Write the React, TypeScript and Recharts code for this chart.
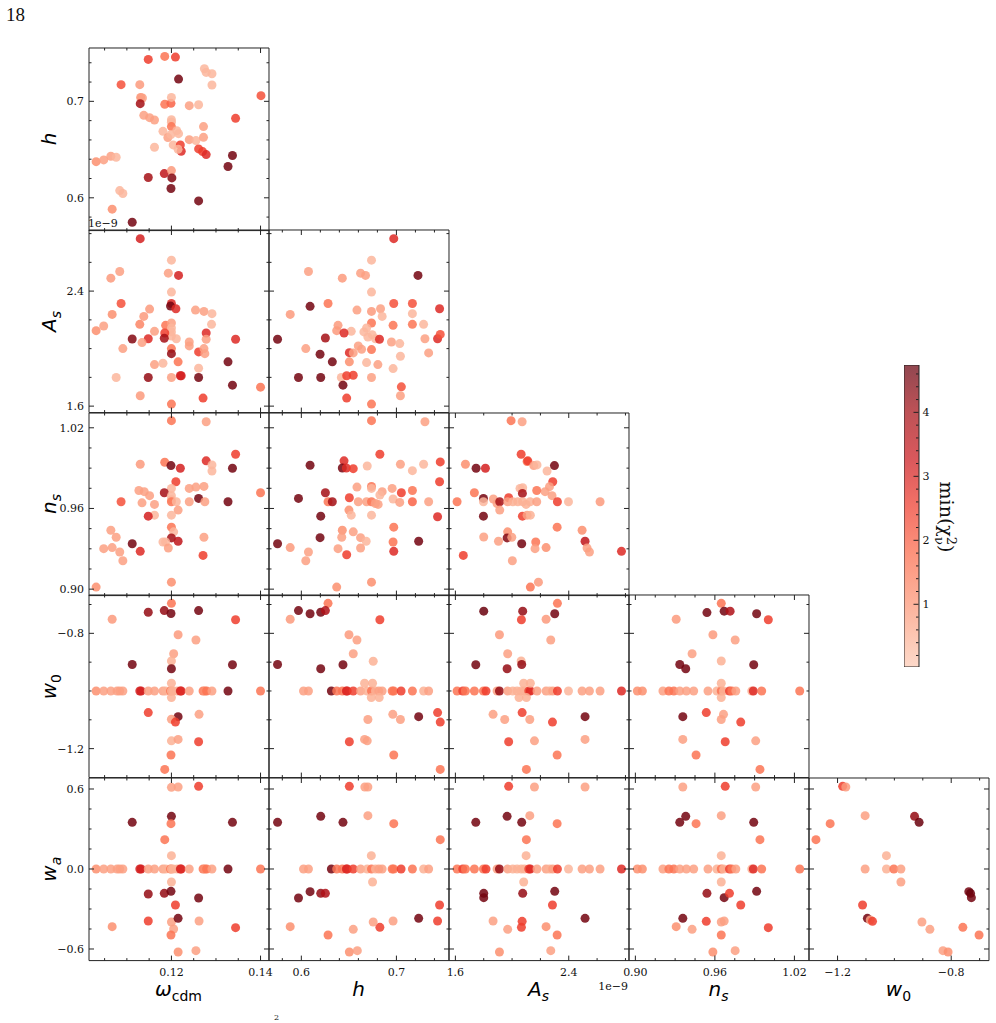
import React from "react";
import { ScatterChart, Scatter, XAxis, YAxis, ReferenceArea, BarChart, Bar } from "recharts";

// [x, y, min reduced chi2] for every off-diagonal panel
type Pt = [number, number, number];
// [x, min reduced chi2] for samples sitting on the fiducial w0 / wa line
type Fid = [number, number];

const W0_FID = -1;
const WA_FID = 0;

const hVsOmega: Pt[] = [
  [0.1148, 0.7435, 2.5], [0.1185, 0.7466, 1.6], [0.1209, 0.7459, 2.5], [0.1216, 0.7231, 4.6],
  [0.1274, 0.7338, 0.4], [0.1278, 0.73, 0.4], [0.1291, 0.7286, 0.4], [0.1291, 0.7169, 0.4],
  [0.1087, 0.7173, 2.2], [0.1129, 0.7173, 0.9], [0.1131, 0.7041, 1.1], [0.1135, 0.7035, 0.8],
  [0.113, 0.6976, 4.0], [0.1185, 0.6969, 1.6], [0.1199, 0.6979, 1.9], [0.12, 0.7041, 0.4],
  [0.124, 0.6955, 0.8], [0.1261, 0.6965, 0.4], [0.1401, 0.7059, 2.2], [0.1344, 0.6824, 2.5],
  [0.1138, 0.6855, 0.8], [0.1151, 0.6831, 0.8], [0.1162, 0.6807, 0.8], [0.12, 0.681, 0.4],
  [0.12, 0.6783, 0.4], [0.12, 0.6738, 1.6], [0.1181, 0.6689, 0.4], [0.1212, 0.6696, 0.4],
  [0.1216, 0.6665, 0.4], [0.1272, 0.6738, 0.8], [0.1192, 0.6624, 0.8], [0.1199, 0.6655, 0.4],
  [0.124, 0.6603, 0.8], [0.1255, 0.6593, 0.4], [0.1272, 0.6627, 0.8], [0.1162, 0.6524, 0.4],
  [0.1204, 0.6548, 0.4], [0.122, 0.6548, 2.5], [0.1222, 0.6482, 2.9], [0.1215, 0.6503, 0.4],
  [0.1261, 0.6507, 2.5], [0.127, 0.6479, 2.5], [0.1278, 0.6448, 2.9], [0.1337, 0.6438, 4.6],
  [0.1327, 0.6324, 4.6], [0.1031, 0.6375, 1.1], [0.1048, 0.6393, 0.8], [0.1064, 0.6431, 0.8],
  [0.1076, 0.642, 0.4], [0.1148, 0.621, 4.0], [0.1184, 0.6251, 3.5], [0.12, 0.6282, 0.9],
  [0.1201, 0.6206, 4.4], [0.1199, 0.6096, 4.6], [0.1084, 0.6075, 0.4], [0.1091, 0.6044, 0.4],
  [0.1067, 0.5882, 1.1], [0.1261, 0.5968, 4.6], [0.1112, 0.5747, 4.6],
];

const asVsOmega: Pt[] = [
  [0.113, 2.765, 3.1], [0.12, 2.615, 0.4], [0.1084, 2.536, 0.8], [0.1064, 2.49, 0.9],
  [0.1193, 2.525, 0.8], [0.1216, 2.509, 3.1], [0.12, 2.393, 0.4], [0.1087, 2.314, 2.2],
  [0.12, 2.314, 2.9], [0.1198, 2.296, 4.6], [0.121, 2.277, 2.9], [0.1151, 2.275, 0.9],
  [0.1138, 2.224, 0.9], [0.1067, 2.238, 1.1], [0.1254, 2.268, 0.8], [0.1273, 2.259, 0.8],
  [0.1291, 2.243, 0.4], [0.129, 2.169, 0.4], [0.1031, 2.125, 1.1], [0.1048, 2.157, 0.8],
  [0.1129, 2.169, 1.3], [0.1162, 2.12, 0.8], [0.1187, 2.162, 1.6], [0.12, 2.178, 0.8],
  [0.12, 2.143, 0.4], [0.12, 2.116, 0.4], [0.12, 2.088, 0.4], [0.1211, 2.069, 0.4],
  [0.1185, 2.109, 2.5], [0.1184, 2.072, 4.0], [0.1112, 2.067, 4.4], [0.1148, 2.069, 2.9],
  [0.1134, 2.042, 0.8], [0.1091, 2.0, 0.8], [0.1278, 2.109, 2.9], [0.1278, 2.065, 0.8],
  [0.124, 2.046, 0.8], [0.124, 2.019, 0.8], [0.1344, 2.065, 2.9], [0.12, 2.0, 1.6],
  [0.12, 1.965, 4.2], [0.1215, 1.908, 1.6], [0.1261, 1.977, 2.5], [0.1273, 2.0, 0.8],
  [0.1275, 1.965, 0.8], [0.1327, 1.908, 4.6], [0.1162, 1.889, 0.8], [0.1181, 1.898, 0.4],
  [0.1261, 1.864, 0.4], [0.1076, 1.799, 0.4], [0.1148, 1.799, 4.2], [0.12, 1.799, 0.8],
  [0.122, 1.811, 3.1], [0.1222, 1.811, 3.1], [0.1261, 1.799, 4.6], [0.1337, 1.746, 4.6],
  [0.14, 1.732, 1.6], [0.113, 1.672, 0.9], [0.1271, 1.656, 2.5], [0.12, 1.614, 1.6],
];

const asVsH: Pt[] = [
  [0.6972, 2.765, 2.9], [0.6738, 2.615, 0.4], [0.6075, 2.536, 0.8], [0.6431, 2.49, 0.9],
  [0.6623, 2.525, 0.8], [0.6675, 2.509, 0.8], [0.7227, 2.509, 4.6], [0.6738, 2.393, 0.4],
  [0.6092, 2.294, 4.6], [0.6281, 2.314, 1.6], [0.6972, 2.314, 2.2], [0.7168, 2.314, 2.2],
  [0.7454, 2.277, 2.9], [0.5883, 2.238, 0.9], [0.6585, 2.268, 0.8], [0.6738, 2.259, 0.9],
  [0.6833, 2.277, 0.8], [0.685, 2.224, 0.4], [0.7168, 2.243, 0.4], [0.6386, 2.162, 0.9],
  [0.6372, 2.125, 0.9], [0.6525, 2.12, 0.4], [0.6449, 2.109, 2.9], [0.6738, 2.178, 1.6],
  [0.6686, 2.143, 0.4], [0.6658, 2.116, 0.4], [0.67, 2.081, 0.4], [0.6745, 2.097, 0.4],
  [0.678, 2.069, 0.4], [0.6822, 2.065, 2.9], [0.6965, 2.162, 1.6], [0.7168, 2.169, 1.6],
  [0.7286, 2.169, 0.4], [0.73, 2.069, 0.8], [0.7433, 2.069, 2.9], [0.7461, 2.099, 2.2],
  [0.575, 2.065, 4.6], [0.6253, 2.074, 4.0], [0.6047, 2.0, 0.8], [0.6197, 1.961, 4.6],
  [0.6326, 1.908, 4.6], [0.6505, 1.972, 2.9], [0.6546, 1.97, 0.8], [0.6599, 2.019, 0.8],
  [0.6634, 1.995, 0.8], [0.6738, 1.993, 1.6], [0.6948, 2.046, 0.8], [0.7035, 2.035, 0.4],
  [0.7042, 1.947, 0.4], [0.7339, 1.97, 0.8], [0.6505, 1.908, 1.1], [0.6686, 1.903, 0.4],
  [0.6805, 1.889, 0.8], [0.6965, 1.861, 0.4], [0.597, 1.799, 4.6], [0.6204, 1.799, 4.6],
  [0.6421, 1.799, 0.4], [0.6477, 1.811, 2.5], [0.6546, 1.815, 2.5], [0.6438, 1.746, 4.6],
  [0.6738, 1.799, 0.8], [0.7052, 1.734, 2.2], [0.7042, 1.672, 0.8], [0.6477, 1.656, 2.5],
  [0.6738, 1.614, 1.6],
];

const nsVsOmega: Pt[] = [
  [0.12, 1.0253, 1.6], [0.1278, 1.0245, 0.8], [0.1344, 1.0003, 2.5], [0.113, 0.9929, 0.9],
  [0.1185, 0.9944, 1.6], [0.1199, 0.9919, 4.6], [0.122, 0.9899, 3.1], [0.1278, 0.9954, 2.9],
  [0.1291, 0.9924, 0.4], [0.1291, 0.9879, 0.4], [0.1337, 0.9899, 4.6], [0.121, 0.9799, 2.5],
  [0.12, 0.9749, 0.4], [0.1184, 0.9717, 4.0], [0.1127, 0.9734, 0.8], [0.1139, 0.9725, 0.8],
  [0.1151, 0.9695, 0.8], [0.124, 0.9749, 0.8], [0.1255, 0.9759, 0.8], [0.1273, 0.9764, 0.8],
  [0.14, 0.9717, 1.6], [0.12, 0.9695, 0.4], [0.12, 0.9665, 0.4], [0.12, 0.965, 1.6],
  [0.1211, 0.965, 0.4], [0.1087, 0.965, 2.2], [0.1134, 0.9642, 0.8], [0.1162, 0.963, 0.8],
  [0.124, 0.965, 0.8], [0.1261, 0.9675, 4.6], [0.1275, 0.965, 0.8], [0.1327, 0.965, 4.6],
  [0.1215, 0.9588, 0.8], [0.12, 0.955, 0.4], [0.1162, 0.955, 0.4], [0.1148, 0.9543, 3.1],
  [0.12, 0.9461, 1.6], [0.1205, 0.9426, 0.4], [0.12, 0.9381, 4.0], [0.1215, 0.9356, 3.5],
  [0.1181, 0.9351, 0.4], [0.1187, 0.9351, 0.4], [0.1193, 0.9306, 0.8], [0.1273, 0.9386, 0.8],
  [0.1271, 0.9251, 2.5], [0.1064, 0.9438, 0.8], [0.1076, 0.9386, 0.8], [0.1048, 0.9301, 0.8],
  [0.1067, 0.9309, 0.8], [0.1084, 0.9276, 0.8], [0.1091, 0.9211, 0.8], [0.1112, 0.9338, 4.6],
  [0.113, 0.9281, 2.9], [0.12, 0.9052, 1.1], [0.1031, 0.9015, 1.1],
];

const nsVsH: Pt[] = [
  [0.6738, 1.0253, 1.6], [0.73, 1.0245, 0.8], [0.6826, 1.0003, 2.5], [0.6092, 0.9921, 4.6],
  [0.6449, 0.9954, 2.9], [0.6431, 0.9901, 4.6], [0.6473, 0.9901, 2.9], [0.6546, 0.9896, 2.5],
  [0.6693, 0.9916, 0.4], [0.7042, 0.9929, 0.8], [0.7168, 0.9881, 0.4], [0.7286, 0.9929, 0.4],
  [0.7461, 0.9946, 2.5], [0.7454, 0.9799, 2.5], [0.6585, 0.9759, 0.8], [0.6738, 0.9764, 1.6],
  [0.6738, 0.9749, 0.4], [0.685, 0.9725, 0.8], [0.6826, 0.97, 0.4], [0.6955, 0.9749, 0.8],
  [0.7052, 0.9717, 2.5], [0.7168, 0.9734, 1.6], [0.597, 0.9675, 4.6], [0.6253, 0.9717, 4.0],
  [0.6281, 0.965, 1.6], [0.6326, 0.965, 4.0], [0.6505, 0.968, 2.5], [0.6599, 0.965, 0.8],
  [0.6686, 0.965, 0.8], [0.6738, 0.965, 1.6], [0.678, 0.9637, 0.8], [0.6808, 0.963, 0.8],
  [0.6965, 0.967, 0.4], [0.7035, 0.9645, 0.8], [0.7168, 0.965, 1.9], [0.7339, 0.965, 0.8],
  [0.6501, 0.9588, 1.1], [0.6525, 0.955, 0.4], [0.6738, 0.955, 0.4], [0.6204, 0.9543, 4.6],
  [0.7433, 0.9538, 2.9], [0.6431, 0.9438, 1.1], [0.6425, 0.9386, 0.8], [0.6546, 0.9426, 0.8],
  [0.6623, 0.9383, 0.8], [0.6682, 0.9356, 0.4], [0.6972, 0.9461, 1.6], [0.6965, 0.9351, 1.6],
  [0.6972, 0.9281, 2.9], [0.7234, 0.9356, 4.6], [0.6197, 0.9383, 4.6], [0.575, 0.9338, 4.6],
  [0.5883, 0.9309, 0.9], [0.6075, 0.9276, 0.8], [0.6047, 0.9211, 0.8], [0.6386, 0.9301, 0.8],
  [0.6477, 0.9256, 2.5], [0.6623, 0.9306, 0.8], [0.6738, 0.9052, 1.1], [0.6372, 0.9015, 1.1],
];

const nsVsAs: Pt[] = [
  [1.993, 1.0253, 1.6], [2.071, 1.0245, 0.8], [2.064, 1.0003, 2.5], [2.106, 0.9949, 1.6],
  [2.111, 0.9954, 2.5], [2.153, 0.9919, 0.8], [2.176, 0.9924, 0.4], [2.247, 0.9879, 0.4],
  [2.299, 0.9919, 4.6], [1.671, 0.9929, 1.1], [1.746, 0.9899, 4.6], [1.812, 0.9899, 3.1],
  [2.287, 0.9799, 2.5], [2.264, 0.9762, 0.8], [2.233, 0.9725, 0.8], [2.282, 0.9695, 0.8],
  [2.174, 0.9734, 1.6], [2.056, 0.9749, 0.4], [2.075, 0.9754, 0.4], [2.073, 0.9712, 4.0],
  [1.734, 0.9717, 1.6], [1.612, 0.965, 1.6], [1.798, 0.9675, 4.6], [1.798, 0.965, 0.4],
  [1.868, 0.967, 0.8], [1.894, 0.9637, 0.8], [1.913, 0.965, 4.0], [1.913, 0.9588, 0.8],
  [1.976, 0.968, 2.5], [1.969, 0.965, 0.8], [2.005, 0.965, 0.5], [2.04, 0.965, 0.5],
  [2.075, 0.965, 0.5], [2.099, 0.963, 0.5], [2.127, 0.965, 0.5], [2.174, 0.965, 0.8],
  [2.32, 0.965, 2.5], [2.398, 0.965, 0.4], [2.621, 0.965, 0.9], [2.073, 0.9543, 2.5],
  [2.106, 0.955, 0.8], [2.129, 0.955, 0.5], [1.798, 0.9543, 4.6], [1.8, 0.9388, 0.8],
  [1.904, 0.9356, 0.8], [1.969, 0.9426, 1.1], [1.965, 0.9381, 4.4], [1.998, 0.9386, 0.8],
  [2.068, 0.9338, 4.6], [2.167, 0.9351, 1.6], [2.162, 0.9301, 0.8], [2.24, 0.9309, 1.1],
  [2.318, 0.9461, 1.6], [2.494, 0.9438, 1.1], [2.515, 0.9356, 3.5], [2.529, 0.9306, 0.8],
  [2.546, 0.9276, 0.8], [2.772, 0.9281, 2.9], [1.656, 0.9251, 2.5], [2.002, 0.9211, 0.8],
  [2.129, 0.9015, 1.6], [2.186, 0.9052, 0.9],
];

// samples with w0 away from the fiducial value
const w0VsOmega: Pt[] = [
  [0.12, -0.696, 1.6], [0.1148, -0.727, 4.2], [0.1184, -0.721, 4.2], [0.1199, -0.731, 4.6],
  [0.1261, -0.721, 4.6], [0.1067, -0.751, 0.9], [0.1344, -0.753, 2.5], [0.1215, -0.805, 0.9],
  [0.1255, -0.823, 0.8], [0.1205, -0.871, 0.8], [0.12, -0.896, 0.5], [0.1112, -0.908, 4.6],
  [0.12, -0.923, 4.6], [0.1337, -0.909, 4.6], [0.12, -0.973, 0.5], [0.12, -1.023, 0.5],
  [0.1148, -1.075, 2.5], [0.1215, -1.089, 4.6], [0.12, -1.098, 0.8], [0.1209, -1.108, 2.5],
  [0.1262, -1.081, 0.8], [0.12, -1.173, 0.5], [0.1215, -1.168, 0.8], [0.1261, -1.176, 2.5],
  [0.1199, -1.222, 1.6], [0.1185, -1.272, 1.6],
];

const w0VsH: Pt[] = [
  [0.6281, -0.696, 1.6], [0.597, -0.721, 4.6], [0.6092, -0.732, 4.6], [0.6204, -0.727, 4.6],
  [0.6253, -0.721, 3.8], [0.5883, -0.751, 0.9], [0.6826, -0.753, 2.5], [0.6501, -0.805, 0.9],
  [0.6585, -0.823, 0.8], [0.6546, -0.871, 0.8], [0.6756, -0.897, 0.5], [0.575, -0.908, 4.6],
  [0.6204, -0.923, 4.6], [0.6438, -0.909, 4.6], [0.6665, -0.973, 0.5], [0.6749, -0.973, 0.5],
  [0.6736, -1.023, 0.5], [0.6819, -1.023, 0.5], [0.6962, -1.081, 0.8], [0.7042, -1.099, 0.8],
  [0.67, -1.099, 0.8], [0.7234, -1.089, 4.6], [0.7433, -1.075, 2.5], [0.7461, -1.108, 2.5],
  [0.6505, -1.176, 2.5], [0.6665, -1.168, 0.8], [0.6693, -1.173, 0.8], [0.6972, -1.222, 1.6],
  [0.7461, -1.272, 1.6],
];

const w0VsAs: Pt[] = [
  [2.32, -0.696, 1.6], [1.8, -0.723, 4.7], [2.075, -0.723, 4.2], [2.301, -0.732, 4.6],
  [2.066, -0.753, 2.5], [2.24, -0.751, 0.9], [1.911, -0.805, 0.9], [2.273, -0.823, 0.8],
  [1.969, -0.871, 0.8], [2.064, -0.896, 0.5], [1.744, -0.909, 4.6], [1.965, -0.923, 4.2],
  [2.068, -0.908, 4.2], [2.082, -0.973, 0.5], [2.129, -0.973, 0.5], [2.049, -1.023, 0.5],
  [2.101, -1.023, 0.5], [1.866, -1.081, 0.8], [1.948, -1.099, 0.8], [2.071, -1.075, 2.5],
  [2.125, -1.099, 0.8], [2.285, -1.108, 2.5], [2.515, -1.089, 4.6], [1.976, -1.176, 2.5],
  [2.158, -1.173, 0.8], [2.515, -1.168, 0.8], [2.318, -1.222, 1.6], [2.101, -1.272, 1.6],
];

const w0VsNs: Pt[] = [
  [0.9648, -0.696, 1.6], [0.954, -0.728, 4.6], [0.967, -0.723, 4.6], [0.9715, -0.723, 3.8],
  [0.9915, -0.732, 4.6], [1.0003, -0.753, 2.5], [0.9308, -0.751, 0.9], [0.9585, -0.805, 0.9],
  [0.9753, -0.823, 0.8], [0.9428, -0.871, 0.8], [0.9648, -0.896, 0.5], [0.9335, -0.908, 4.6],
  [0.938, -0.923, 4.6], [0.9893, -0.909, 4.6], [0.9648, -0.973, 0.5], [0.9648, -1.023, 0.5],
  [0.9665, -1.081, 0.8], [0.9648, -1.099, 0.8], [0.9358, -1.089, 4.6], [0.9535, -1.075, 2.5],
  [0.9795, -1.108, 2.5], [0.9358, -1.168, 0.8], [0.9678, -1.176, 2.5], [0.9908, -1.173, 0.8],
  [0.9458, -1.222, 1.6], [0.994, -1.272, 1.6],
];

// samples with w0 = -1 and wa = 0, placed along each column's parameter
const omegaFid: Fid[] = [
  [0.1031, 1.1], [0.1048, 0.8], [0.1064, 0.8], [0.1078, 0.8], [0.1084, 0.8], [0.1091, 0.8],
  [0.1129, 3.1], [0.1132, 3.1], [0.1148, 0.8], [0.1162, 0.8], [0.1181, 0.8], [0.1187, 0.5],
  [0.1198, 1.6], [0.12, 0.5], [0.1204, 0.5], [0.1213, 0.5], [0.122, 3.1], [0.1222, 2.9],
  [0.124, 0.8], [0.1271, 1.6], [0.1275, 1.1], [0.1279, 1.6], [0.1291, 0.8], [0.1327, 4.6],
  [0.14, 1.6],
];

const hFid: Fid[] = [
  [0.6023, 0.8], [0.6075, 0.8], [0.6316, 4.6], [0.6372, 1.6], [0.6431, 1.6], [0.6473, 2.9],
  [0.6483, 2.9], [0.6546, 2.5], [0.6623, 0.8], [0.6693, 0.5], [0.6738, 1.6], [0.678, 0.5],
  [0.6815, 0.8], [0.685, 0.8], [0.6955, 1.6], [0.6972, 1.6], [0.7049, 2.5], [0.7168, 1.6],
  [0.7286, 0.5], [0.7339, 0.8],
];

const asFid: Fid[] = [
  [1.612, 1.6], [1.652, 2.5], [1.671, 1.6], [1.734, 1.6], [1.798, 1.6], [1.816, 2.5],
  [1.894, 0.8], [1.911, 4.2], [1.969, 0.8], [2.005, 0.5], [2.035, 0.5], [2.064, 0.5],
  [2.087, 0.5], [2.118, 2.5], [2.129, 2.9], [2.176, 0.8], [2.24, 0.8], [2.264, 0.5],
  [2.287, 0.8], [2.32, 2.5], [2.398, 0.4], [2.494, 0.8], [2.546, 0.8], [2.621, 0.8],
  [2.772, 2.9],
];

const nsFid: Fid[] = [
  [0.9015, 1.1], [0.9053, 1.1], [0.9208, 0.8], [0.9253, 1.6], [0.929, 1.6], [0.9335, 0.8],
  [0.9385, 0.8], [0.944, 0.8], [0.9548, 0.8], [0.9615, 0.5], [0.9648, 1.6], [0.9665, 0.5],
  [0.971, 2.5], [0.9728, 1.6], [0.9758, 0.8], [0.9878, 0.5], [0.989, 2.9], [0.9953, 1.6],
  [1.024, 1.6],
];

// samples with wa away from the fiducial value
const waVsOmega: Pt[] = [
  [0.12, 0.6125, 0.8], [0.1215, 0.615, 0.8], [0.1261, 0.62, 2.5], [0.12, 0.395, 4.6],
  [0.1112, 0.35, 4.6], [0.1337, 0.35, 4.6], [0.1199, 0.34, 1.6], [0.1185, 0.22, 1.6],
  [0.12, 0.1, 0.5], [0.12, -0.0975, 0.5], [0.1148, -0.1875, 4.2], [0.1184, -0.1825, 4.2],
  [0.1199, -0.1675, 4.6], [0.1261, -0.2175, 4.6], [0.1209, -0.27, 2.5], [0.1148, -0.39, 2.5],
  [0.12, -0.3975, 0.8], [0.1215, -0.37, 4.6], [0.1262, -0.39, 0.8], [0.1205, -0.45, 0.8],
  [0.1067, -0.4325, 1.1], [0.1344, -0.44, 2.5], [0.1199, -0.495, 1.6], [0.1215, -0.6225, 1.1],
  [0.1255, -0.6125, 0.8],
];

const waVsH: Pt[] = [
  [0.6505, 0.62, 2.5], [0.6668, 0.615, 0.8], [0.67, 0.615, 0.8], [0.6204, 0.395, 4.6],
  [0.575, 0.35, 4.6], [0.6438, 0.35, 4.6], [0.67, 0.4, 0.8], [0.6972, 0.34, 1.6],
  [0.7461, 0.22, 1.6], [0.6736, 0.1, 0.5], [0.6749, -0.0975, 0.5], [0.597, -0.2175, 4.6],
  [0.6092, -0.17, 4.6], [0.6204, -0.1825, 4.2], [0.6253, -0.1825, 3.8], [0.7234, -0.37, 4.6],
  [0.7454, -0.27, 2.5], [0.7433, -0.39, 2.5], [0.6826, -0.4375, 2.5], [0.6756, -0.3975, 0.8],
  [0.6965, -0.39, 0.8], [0.5883, -0.4325, 1.1], [0.6281, -0.495, 1.6], [0.6546, -0.4525, 0.8],
  [0.6505, -0.6225, 1.1], [0.6589, -0.6125, 0.8],
];

const waVsAs: Pt[] = [
  [1.976, 0.62, 2.5], [2.158, 0.615, 0.8], [2.515, 0.615, 0.8], [1.965, 0.395, 4.6],
  [1.744, 0.35, 4.6], [2.068, 0.35, 4.6], [2.125, 0.4, 0.8], [2.318, 0.34, 1.6],
  [2.101, 0.22, 1.6], [2.099, 0.1, 0.5], [2.082, -0.0975, 0.5], [1.8, -0.1825, 4.6],
  [1.8, -0.215, 4.6], [2.075, -0.1825, 4.2], [2.301, -0.1675, 4.6], [2.285, -0.27, 2.5],
  [2.515, -0.37, 4.6], [2.071, -0.3925, 2.5], [2.066, -0.4375, 2.5], [1.866, -0.39, 0.8],
  [1.969, -0.4525, 0.8], [2.24, -0.4325, 1.1], [2.318, -0.495, 1.6], [1.911, -0.6225, 1.1],
  [2.273, -0.6125, 0.8],
];

const waVsNs: Pt[] = [
  [0.9358, 0.615, 0.8], [0.9678, 0.62, 2.5], [0.9908, 0.615, 0.8], [0.938, 0.395, 4.6],
  [0.9335, 0.35, 4.6], [0.9893, 0.35, 4.6], [0.9458, 0.34, 1.6], [0.9648, 0.4, 0.8],
  [0.994, 0.22, 1.6], [0.9648, 0.1, 0.5], [0.9648, -0.0975, 0.5], [0.954, -0.1825, 4.2],
  [0.967, -0.215, 4.6], [0.971, -0.1825, 2.5], [0.9915, -0.1675, 4.6], [0.9795, -0.27, 2.5],
  [0.9358, -0.37, 4.6], [0.9535, -0.3925, 2.5], [0.9648, -0.3975, 0.8], [0.967, -0.39, 0.8],
  [0.9308, -0.4325, 1.1], [0.9428, -0.4525, 0.8], [0.9648, -0.495, 1.6], [1.0003, -0.44, 2.5],
  [0.9585, -0.6225, 1.1], [0.9753, -0.6125, 0.8],
];

const waVsW0: Pt[] = [
  [-1.182, 0.62, 2.5], [-1.171, 0.615, 0.9], [-1.226, 0.34, 1.6], [-1.276, 0.22, 1.6],
  [-1.103, 0.4, 0.8], [-0.929, 0.395, 4.2], [-0.913, 0.35, 4.7], [-1.028, 0.1, 0.5],
  [-1.103, 0, 0.8], [-1.028, 0, 0.5], [-1.002, 0, 1.6], [-0.977, 0, 0.8],
  [-0.977, -0.0975, 0.8], [-1.112, -0.27, 2.5], [-1.095, -0.37, 4.6], [-1.085, -0.3825, 0.8],
  [-1.077, -0.3925, 2.5], [-0.903, -0.3975, 0.8], [-0.875, -0.4525, 0.8], [-0.829, -0.6125, 0.8],
  [-0.811, -0.6225, 1.1], [-0.759, -0.4375, 1.6], [-0.702, -0.495, 1.6], [-0.738, -0.17, 4.6],
  [-0.732, -0.1825, 4.7], [-0.729, -0.215, 4.6],
];

// colour scale: upper 80% of the "Reds" map over the chi2 range
const CHI_MIN = 0.02;
const CHI_MAX = 4.74;
const REDS = ["#fff5f0", "#fee0d2", "#fcbba1", "#fc9272", "#fb6a4a", "#ef3b2c", "#cb181d", "#a50f15", "#67000d"];

function rgb(hex: string) {
  return [1, 3, 5].map((i) => parseInt(hex.slice(i, i + 2), 16));
}

function reds(t: number) {
  const s = Math.max(0, Math.min(1, t)) * 8;
  const i = Math.min(7, Math.floor(s));
  const f = s - i;
  const a = rgb(REDS[i]);
  const b = rgb(REDS[i + 1]);
  const c = a.map((v, k) => Math.round(v + (b[k] - v) * f));
  return `rgb(${c[0]},${c[1]},${c[2]})`;
}

const chiT = (c: number) => 0.2 + (0.8 * (c - CHI_MIN)) / (CHI_MAX - CHI_MIN);
const chiColor = (c: number) => reds(chiT(c));

// panel geometry
const X0 = 88.5;
const Y0 = 47.5;
const PW = 180;
const PH = 182.6;
const PAD_L = 70;
const PAD_R = 20;
const PAD_T = 20;
const PAD_B = 60;
const DOT_R = 4.5;

const SERIF = "'DejaVu Serif', serif";
const SANS = "'DejaVu Sans', sans-serif";
const INK = "#222";

const minus = (s: string) => s.replace("-", "\u2212");

interface AxisSpec {
  domain: [number, number];
  major: number[];
  minor: number[];
  fmt: (v: number) => string;
  sym: string;
  sub?: string;
  subItalic?: boolean;
}

const AXES: Record<string, AxisSpec> = {
  omega: { domain: [0.1015, 0.1419], major: [0.12, 0.14], minor: [0.105, 0.11, 0.115, 0.125, 0.13, 0.135], fmt: (v) => v.toFixed(2), sym: "ω", sub: "cdm" },
  h: { domain: [0.566, 0.7553], major: [0.6, 0.7], minor: [0.58, 0.62, 0.64, 0.66, 0.68, 0.72, 0.74], fmt: (v) => v.toFixed(1), sym: "h" },
  As: { domain: [1.555, 2.825], major: [1.6, 2.4], minor: [1.8, 2.0, 2.2, 2.6, 2.8], fmt: (v) => v.toFixed(1), sym: "A", sub: "s", subItalic: true },
  ns: { domain: [0.8952, 1.031], major: [0.9, 0.96, 1.02], minor: [0.915, 0.93, 0.945, 0.975, 0.99, 1.005], fmt: (v) => v.toFixed(2), sym: "n", sub: "s", subItalic: true },
  w0: { domain: [-1.3005, -0.667], major: [-1.2, -0.8], minor: [-1.1, -1.0, -0.9, -0.7], fmt: (v) => minus(v.toFixed(1)), sym: "w", sub: "0" },
  wa: { domain: [-0.687, 0.6825], major: [-0.6, 0, 0.6], minor: [-0.45, -0.3, -0.15, 0.15, 0.3, 0.45], fmt: (v) => minus(v.toFixed(1)), sym: "w", sub: "a", subItalic: true },
};

const COLS = ["omega", "h", "As", "ns", "w0"];
const ROWS = ["h", "As", "ns", "w0", "wa"];

const onW0 = (f: Fid[]): Pt[] => f.map(([x, c]) => [x, W0_FID, c]);
const onWa = (f: Fid[]): Pt[] => f.map(([x, c]) => [x, WA_FID, c]);

const PANELS: { row: number; col: number; pts: Pt[] }[] = [
  { row: 0, col: 0, pts: hVsOmega },
  { row: 1, col: 0, pts: asVsOmega },
  { row: 1, col: 1, pts: asVsH },
  { row: 2, col: 0, pts: nsVsOmega },
  { row: 2, col: 1, pts: nsVsH },
  { row: 2, col: 2, pts: nsVsAs },
  { row: 3, col: 0, pts: [...onW0(omegaFid), ...w0VsOmega] },
  { row: 3, col: 1, pts: [...onW0(hFid), ...w0VsH] },
  { row: 3, col: 2, pts: [...onW0(asFid), ...w0VsAs] },
  { row: 3, col: 3, pts: [...onW0(nsFid), ...w0VsNs] },
  { row: 4, col: 0, pts: [...onWa(omegaFid), ...waVsOmega] },
  { row: 4, col: 1, pts: [...onWa(hFid), ...waVsH] },
  { row: 4, col: 2, pts: [...onWa(asFid), ...waVsAs] },
  { row: 4, col: 3, pts: [...onWa(nsFid), ...waVsNs] },
  { row: 4, col: 4, pts: waVsW0 },
];

// inward ticks on bottom + top edges, label below when requested
function xTick(p: any, ax: AxisSpec, label: boolean) {
  const v = p.payload.value;
  const major = ax.major.indexOf(v) >= 0;
  const len = major ? 5 : 2.5;
  return (
    <g>
      <line x1={p.x} x2={p.x} y1={p.y} y2={p.y - len} stroke={INK} strokeWidth={1} />
      <line x1={p.x} x2={p.x} y1={p.y - PH} y2={p.y - PH + len} stroke={INK} strokeWidth={1} />
      {label && major && (
        <text x={p.x} y={p.y + 15} textAnchor="middle" fontFamily={SERIF} fontSize={11} fill="#111">
          {ax.fmt(v)}
        </text>
      )}
    </g>
  );
}

// inward ticks on left + right edges
function yTick(p: any, ax: AxisSpec, label: boolean) {
  const v = p.payload.value;
  const major = ax.major.indexOf(v) >= 0;
  const len = major ? 5 : 2.5;
  return (
    <g>
      <line x1={p.x} x2={p.x + len} y1={p.y} y2={p.y} stroke={INK} strokeWidth={1} />
      <line x1={p.x + PW} x2={p.x + PW - len} y1={p.y} y2={p.y} stroke={INK} strokeWidth={1} />
      {label && major && (
        <text x={p.x - 5} y={p.y + 4} textAnchor="end" fontFamily={SERIF} fontSize={11} fill="#111">
          {ax.fmt(v)}
        </text>
      )}
    </g>
  );
}

function Panel({ row, col, pts }: { row: number; col: number; pts: Pt[] }) {
  const xa = AXES[COLS[col]];
  const ya = AXES[ROWS[row]];
  const data = pts.map(([x, y, c]) => ({ x, y, c }));
  return (
    <div style={{ position: "absolute", left: X0 + col * PW - PAD_L, top: Y0 + row * PH - PAD_T }}>
      <ScatterChart
        width={PAD_L + PW + PAD_R}
        height={PAD_T + PH + PAD_B}
        margin={{ top: PAD_T, right: PAD_R, bottom: 0, left: 0 }}
      >
        <XAxis
          type="number"
          dataKey="x"
          domain={xa.domain}
          ticks={[...xa.major, ...xa.minor]}
          interval={0}
          height={PAD_B}
          tickSize={0}
          tickMargin={0}
          tickLine={false}
          axisLine={false}
          tick={(p: any) => xTick(p, xa, row === 4)}
        />
        <YAxis
          type="number"
          dataKey="y"
          domain={ya.domain}
          ticks={[...ya.major, ...ya.minor]}
          interval={0}
          width={PAD_L}
          tickSize={0}
          tickMargin={0}
          tickLine={false}
          axisLine={false}
          tick={(p: any) => yTick(p, ya, col === 0)}
        />
        <ReferenceArea
          x1={xa.domain[0]}
          x2={xa.domain[1]}
          y1={ya.domain[0]}
          y2={ya.domain[1]}
          fill="none"
          stroke={INK}
          strokeWidth={1}
          ifOverflow="visible"
        />
        <Scatter
          data={data}
          isAnimationActive={false}
          shape={(p: any) => (
            <circle cx={p.cx} cy={p.cy} r={DOT_R} fill={chiColor(p.payload.c)} fillOpacity={0.85} />
          )}
        />
      </ScatterChart>
    </div>
  );
}

// colour bar
const CB_X = 903.5;
const CB_Y = 364.5;
const CB_W = 14.5;
const CB_H = 302;
const cbMajor = [1, 2, 3, 4];
const cbMinor = Array.from({ length: 23 }, (_, i) => +(0.2 * (i + 1)).toFixed(1)).filter((v) => cbMajor.indexOf(v) < 0);
const cbData = [{ name: "chi", span: [CHI_MIN, CHI_MAX] }];
const cbStops = [0.2, 0.25, 0.375, 0.5, 0.625, 0.75, 0.875, 1];

function cbTick(p: any) {
  const v = p.payload.value;
  const major = cbMajor.indexOf(v) >= 0;
  return (
    <g>
      <line x1={p.x} x2={p.x - (major ? 5 : 2.5)} y1={p.y} y2={p.y} stroke={INK} strokeWidth={1} />
      {major && (
        <text x={p.x + 4} y={p.y + 4} fontFamily={SERIF} fontSize={11} fill="#111">
          {v}
        </text>
      )}
    </g>
  );
}

function ColorBar() {
  return (
    <div style={{ position: "absolute", left: CB_X, top: CB_Y }}>
      <BarChart width={CB_W + 40} height={CB_H} data={cbData} margin={{ top: 0, right: 0, bottom: 0, left: 0 }} barCategoryGap={0}>
        <defs>
          <linearGradient id="cbGrad" x1="0" y1="1" x2="0" y2="0">
            {cbStops.map((t) => (
              <stop key={t} offset={(t - 0.2) / 0.8} stopColor={reds(t)} />
            ))}
          </linearGradient>
        </defs>
        <XAxis dataKey="name" hide />
        <YAxis
          orientation="right"
          type="number"
          domain={[CHI_MIN, CHI_MAX]}
          ticks={[...cbMajor, ...cbMinor]}
          interval={0}
          width={40}
          tickSize={0}
          tickMargin={0}
          tickLine={false}
          axisLine={false}
          tick={cbTick}
        />
        <Bar dataKey="span" fill="url(#cbGrad)" fillOpacity={0.72} stroke={INK} strokeWidth={1} isAnimationActive={false} />
      </BarChart>
    </div>
  );
}

function MathLabel({ x, y, ax, vertical }: { x: number; y: number; ax: AxisSpec; vertical?: boolean }) {
  return (
    <text
      x={0}
      y={0}
      transform={`translate(${x} ${y})${vertical ? " rotate(-90)" : ""}`}
      textAnchor="middle"
      fontFamily={SANS}
      fontSize={20}
      fill="#000"
    >
      <tspan fontStyle="italic">{ax.sym}</tspan>
      {ax.sub && (
        <tspan fontSize={14} dy={4.5} fontStyle={ax.subItalic ? "italic" : "normal"}>
          {ax.sub}
        </tspan>
      )}
    </text>
  );
}

export default function App() {
  return (
    <div style={{ position: "absolute", left: 0, top: 0, width: 996, height: 1023, background: "#fff", overflow: "hidden" }}>
      {PANELS.map((p) => (
        <Panel key={`${p.row}-${p.col}`} row={p.row} col={p.col} pts={p.pts} />
      ))}
      <ColorBar />
      <svg width={996} height={1023} style={{ position: "absolute", left: 0, top: 0, pointerEvents: "none" }}>
        <text x={6} y={21} fontFamily="'Liberation Serif', serif" fontSize={19} fill="#111">
          18
        </text>
        {ROWS.map((k, r) => (
          <MathLabel key={k + r} x={56} y={Y0 + r * PH + PH / 2} ax={AXES[k]} vertical />
        ))}
        {COLS.map((k, c) => (
          <MathLabel key={k + c} x={X0 + c * PW + PW / 2} y={996} ax={AXES[k]} />
        ))}
        <text x={88} y={227} fontFamily={SERIF} fontSize={11} fill="#111">
          1e{"\u2212"}9
        </text>
        <text x={628} y={990} textAnchor="end" fontFamily={SERIF} fontSize={11} fill="#111">
          1e{"\u2212"}9
        </text>
        <text transform="translate(940 517) rotate(90)" textAnchor="middle" fontFamily={SERIF} fontSize={19} fill="#111">
          min(χ<tspan fontSize={13} dy={-7}>2</tspan>
          <tspan fontSize={13} dx={-8} dy={12}>ν</tspan>
          <tspan dy={-5}>)</tspan>
        </text>
        <text x={274} y={1020} fontFamily={SERIF} fontSize={8} fill="#111">
          2
        </text>
      </svg>
    </div>
  );
}
